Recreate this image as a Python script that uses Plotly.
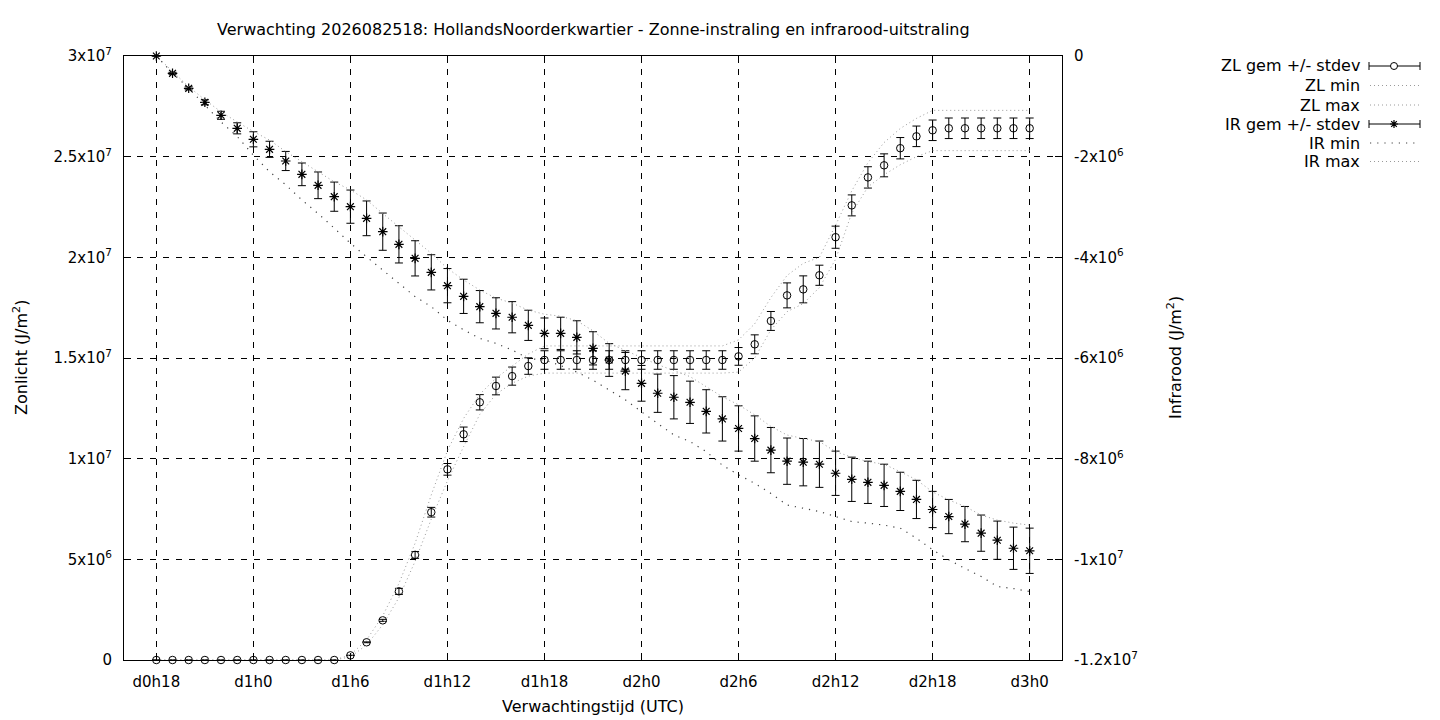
import plotly.graph_objects as go

# forecast hours (d0h18 .. d3h0), hourly
hours = [18, 19, 20, 21, 22, 23, 24, 25, 26, 27, 28, 29, 30, 31, 32, 33, 34, 35, 36,
         37, 38, 39, 40, 41, 42, 43, 44, 45, 46, 47, 48, 49, 50, 51, 52, 53, 54, 55,
         56, 57, 58, 59, 60, 61, 62, 63, 64, 65, 66, 67, 68, 69, 70, 71, 72]

# Zonlicht (J/m2), left axis
zl_mean = [0, 0, 0, 0, 0, 0, 0, 0, 0, 0, 0, 0,
           2.3e5, 8.8e5, 1.97e6, 3.41e6, 5.22e6, 7.34e6, 9.47e6, 1.121e7, 1.28e7,
           1.361e7, 1.41e7, 1.46e7, 1.49e7,
           1.49e7, 1.49e7, 1.49e7, 1.49e7, 1.49e7, 1.49e7, 1.49e7, 1.49e7, 1.49e7,
           1.49e7, 1.49e7,
           1.508e7, 1.568e7, 1.684e7, 1.811e7, 1.841e7, 1.911e7, 2.1e7, 2.258e7,
           2.397e7, 2.457e7, 2.542e7, 2.601e7, 2.631e7,
           2.641e7, 2.641e7, 2.641e7, 2.641e7, 2.641e7, 2.641e7]
zl_std = [0, 0, 0, 0, 0, 0, 0, 0, 0, 0, 0, 0,
          0, 2e4, 5e4, 1.5e5, 1.7e5, 2.4e5, 2.9e5, 3.6e5, 3.8e5,
          4.4e5, 4.5e5, 4.1e5, 4.6e5,
          4.6e5, 4.6e5, 4.6e5, 4.6e5, 4.6e5, 4.6e5, 4.6e5, 4.6e5, 4.6e5,
          4.6e5, 4.6e5,
          4.4e5, 4.7e5, 4.7e5, 6.2e5, 6.7e5, 5.0e5, 5.5e5, 5.2e5,
          5.3e5, 5.7e5, 5.3e5, 5.1e5, 5.1e5,
          5.1e5, 5.1e5, 5.1e5, 5.1e5, 5.1e5, 5.1e5]
zl_min = [0, 0, 0, 0, 0, 0, 0, 0, 0, 0, 0, 0,
          1.5e5, 7.5e5, 1.75e6, 3.1e6, 4.9e6, 7.0e6, 8.9e6, 1.06e7, 1.22e7,
          1.32e7, 1.375e7, 1.41e7, 1.425e7,
          1.425e7, 1.425e7, 1.425e7, 1.425e7, 1.425e7, 1.425e7, 1.425e7, 1.425e7,
          1.425e7, 1.425e7, 1.425e7,
          1.43e7, 1.5e7, 1.64e7, 1.73e7, 1.77e7, 1.85e7, 1.99e7, 2.22e7,
          2.35e7, 2.41e7, 2.46e7, 2.50e7, 2.53e7,
          2.53e7, 2.53e7, 2.53e7, 2.53e7, 2.53e7, 2.53e7]
zl_max = [0, 0, 0, 0, 0, 0, 0, 0, 0, 0, 0, 0,
          2.5e5, 1.0e6, 2.2e6, 3.8e6, 5.8e6, 8.2e6, 1.04e7, 1.2e7, 1.32e7,
          1.40e7, 1.46e7, 1.52e7, 1.56e7,
          1.56e7, 1.56e7, 1.56e7, 1.56e7, 1.56e7, 1.56e7, 1.56e7, 1.56e7, 1.56e7,
          1.56e7, 1.56e7,
          1.59e7, 1.67e7, 1.80e7, 1.91e7, 1.97e7, 2.0e7, 2.16e7, 2.33e7,
          2.47e7, 2.57e7, 2.64e7, 2.69e7, 2.73e7,
          2.73e7, 2.73e7, 2.73e7, 2.73e7, 2.73e7, 2.73e7]

# Infrarood (J/m2), right axis
ir_mean = [0, -3.44e5, -6.42e5, -9.2e5, -1.178e6, -1.437e6, -1.655e6, -1.854e6,
           -2.086e6, -2.351e6, -2.569e6, -2.795e6, -2.993e6, -3.225e6, -3.49e6,
           -3.742e6, -4.02e6, -4.298e6, -4.563e6, -4.775e6, -4.98e6, -5.113e6,
           -5.19e6, -5.351e6, -5.51e6, -5.51e6, -5.59e6, -5.808e6, -6.04e6,
           -6.26e6, -6.503e6, -6.70e6, -6.78e6, -6.88e6, -7.06e6, -7.21e6,
           -7.40e6, -7.60e6, -7.83e6, -8.05e6, -8.07e6, -8.11e6, -8.29e6,
           -8.41e6, -8.47e6, -8.53e6, -8.65e6, -8.81e6, -9.01e6, -9.15e6,
           -9.30e6, -9.48e6, -9.62e6, -9.78e6, -9.83e6]
ir_std = [0, 2e4, 3e4, 5e4, 8e4, 1.1e5, 1.5e5, 1.6e5, 1.9e5, 2.25e5, 2.65e5, 2.9e5,
          3.3e5, 3.45e5, 3.7e5, 3.7e5, 3.5e5, 3.5e5, 3.4e5, 3.4e5, 3.2e5, 3.1e5,
          3.1e5, 3.0e5, 3.05e5, 3.2e5, 3.3e5, 3.3e5, 3.25e5, 3.7e5, 3.55e5, 3.8e5,
          4.3e5, 4.2e5, 4.3e5, 4.4e5, 4.5e5, 4.5e5, 4.5e5, 4.6e5, 4.7e5, 4.6e5,
          4.4e5, 4.4e5, 4.2e5, 4.2e5, 3.8e5, 3.8e5, 3.6e5, 3.4e5, 3.5e5, 3.6e5,
          3.8e5, 4.2e5, 4.5e5]
ir_min = [0, -3.4e5, -6.4e5, -9.7e5, -1.31e6, -1.60e6, -1.97e6, -2.30e6, -2.56e6,
          -2.86e6, -3.13e6, -3.42e6, -3.72e6, -3.99e6, -4.25e6, -4.52e6, -4.78e6,
          -4.98e6, -5.25e6, -5.44e6, -5.61e6, -5.71e6, -5.84e6, -6.01e6, -6.04e6,
          -6.15e6, -6.28e6, -6.44e6, -6.64e6, -6.83e6, -7.07e6, -7.30e6, -7.53e6,
          -7.66e6, -7.86e6, -8.13e6, -8.32e6, -8.49e6, -8.69e6, -8.92e6, -8.99e6,
          -9.05e6, -9.15e6, -9.25e6, -9.28e6, -9.32e6, -9.38e6, -9.58e6, -9.81e6,
          -1.001e7, -1.018e7, -1.034e7, -1.054e7, -1.058e7, -1.064e7]
ir_max = [0, -3.1e5, -6.1e5, -8.7e5, -1.11e6, -1.31e6, -1.50e6, -1.67e6, -1.90e6,
          -2.10e6, -2.30e6, -2.50e6, -2.66e6, -2.86e6, -3.13e6, -3.39e6, -3.66e6,
          -3.92e6, -4.22e6, -4.45e6, -4.65e6, -4.81e6, -4.91e6, -5.05e6, -5.13e6,
          -5.17e6, -5.26e6, -5.46e6, -5.71e6, -5.85e6, -6.0e6, -6.13e6, -6.25e6,
          -6.37e6, -6.57e6, -6.77e6, -6.93e6, -7.13e6, -7.36e6, -7.53e6, -7.60e6,
          -7.66e6, -7.86e6, -7.97e6, -8.06e6, -8.11e6, -8.26e6, -8.42e6, -8.66e6,
          -8.82e6, -8.95e6, -9.12e6, -9.22e6, -9.28e6, -9.32e6]

x_ticks = [18, 24, 30, 36, 42, 48, 54, 60, 66, 72]
x_labels = ["d0h18", "d1h0", "d1h6", "d1h12", "d1h18", "d2h0", "d2h6", "d2h12",
            "d2h18", "d3h0"]
y1_ticks = [0, 5e6, 1e7, 1.5e7, 2e7, 2.5e7, 3e7]
y1_labels = ["0", "5x10<sup>6</sup>", "1x10<sup>7</sup>", "1.5x10<sup>7</sup>",
             "2x10<sup>7</sup>", "2.5x10<sup>7</sup>", "3x10<sup>7</sup>"]
y2_ticks = [-1.2e7, -1e7, -8e6, -6e6, -4e6, -2e6, 0]
y2_labels = ["-1.2x10<sup>7</sup>", "-1x10<sup>7</sup>", "-8x10<sup>6</sup>",
             "-6x10<sup>6</sup>", "-4x10<sup>6</sup>", "-2x10<sup>6</sup>", "0"]

FONT = "DejaVu Sans"
FINE = "#9a9a9a"
SPARSE = "#404040"

fig = go.Figure()

fig.add_trace(go.Scatter(
    x=hours, y=zl_mean, mode="markers", name="ZL gem +/- stdev",
    marker=dict(symbol="circle-open", size=7.5, color="black", line=dict(width=1)),
    error_y=dict(type="data", array=zl_std, color="black", thickness=1, width=4),
    cliponaxis=False))
fig.add_trace(go.Scatter(
    x=hours, y=zl_min, mode="lines", name="ZL min",
    line=dict(color=FINE, width=1, dash="1px,3px")))
fig.add_trace(go.Scatter(
    x=hours, y=zl_max, mode="lines", name="ZL max",
    line=dict(color=FINE, width=1, dash="1px,3px")))
fig.add_trace(go.Scatter(
    x=hours, y=ir_mean, mode="markers", name="IR gem +/- stdev", yaxis="y2",
    marker=dict(symbol="asterisk-open", size=8, color="black", line=dict(width=1.2)),
    error_y=dict(type="data", array=ir_std, color="black", thickness=1, width=4),
    cliponaxis=False))
fig.add_trace(go.Scatter(
    x=hours, y=ir_min, mode="lines", name="IR min", yaxis="y2",
    line=dict(color=SPARSE, width=1.2, dash="1.2px,6px")))
fig.add_trace(go.Scatter(
    x=hours, y=ir_max, mode="lines", name="IR max", yaxis="y2",
    line=dict(color=FINE, width=1, dash="1px,3px")))

# the page body adds an 8px margin, so the figure sits at (8, 8) on screen
OFF = 8
FIG_W, FIG_H = 1440 - OFF, 720 - OFF
# plot area in screen pixels
L, T, W, H = 124, 56, 938, 604


def px(x):
    return (x - L) / W


def py(y):
    return (T + H - y) / H


# gnuplot-style key: text right-aligned, sample on the right
key_names = ["ZL gem +/- stdev", "ZL min", "ZL max", "IR gem +/- stdev",
             "IR min", "IR max"]
key_y = [66, 85.5, 105, 124, 143, 161.5]
annotations = []
shapes = []
for name, ky in zip(key_names, key_y):
    annotations.append(dict(x=px(1362), y=py(ky), xref="paper", yref="paper",
                            text=name, showarrow=False, xanchor="right",
                            yanchor="middle", font=dict(size=16)))
for i in (0, 3):
    ky = key_y[i]
    shapes.append(dict(type="line", xref="paper", yref="paper", x0=px(1369),
                       x1=px(1420), y0=py(ky), y1=py(ky),
                       line=dict(color="black", width=1)))
    for cx in (1369, 1420):
        shapes.append(dict(type="line", xref="paper", yref="paper", x0=px(cx),
                           x1=px(cx), y0=py(ky - 4), y1=py(ky + 4),
                           line=dict(color="black", width=1)))
shapes.append(dict(type="circle", xref="paper", yref="paper", x0=px(1390.5),
                   x1=px(1397.5), y0=py(key_y[0] + 3.5), y1=py(key_y[0] - 3.5),
                   fillcolor="white", line=dict(color="black", width=1)))
sy = key_y[3]
star = (f"M{px(1394)},{py(sy - 4)} L{px(1394)},{py(sy + 4)} "
        f"M{px(1390)},{py(sy)} L{px(1398)},{py(sy)} "
        f"M{px(1391.2)},{py(sy - 2.8)} L{px(1396.8)},{py(sy + 2.8)} "
        f"M{px(1391.2)},{py(sy + 2.8)} L{px(1396.8)},{py(sy - 2.8)}")
shapes.append(dict(type="path", xref="paper", yref="paper", path=star,
                   line=dict(color="black", width=1.2)))
for i, col, dash, wd in ((1, FINE, "1px,3px", 1), (2, FINE, "1px,3px", 1),
                         (4, SPARSE, "1.2px,6px", 1.2), (5, FINE, "1px,3px", 1)):
    shapes.append(dict(type="line", xref="paper", yref="paper", x0=px(1370),
                       x1=px(1420), y0=py(key_y[i]), y1=py(key_y[i]),
                       line=dict(color=col, width=wd, dash=dash)))

# title and axis titles
annotations += [
    dict(x=0.5, y=1, xref="paper", yref="paper", yshift=27, showarrow=False,
         text="Verwachting 2026082518: HollandsNoorderkwartier - Zonne-instraling "
              "en infrarood-uitstraling",
         xanchor="center", yanchor="middle", font=dict(size=16)),
    dict(x=0.5, y=0, xref="paper", yref="paper", yshift=-46, showarrow=False,
         text="Verwachtingstijd (UTC)", xanchor="center", yanchor="middle",
         font=dict(size=16)),
    dict(x=0, y=0.5, xref="paper", yref="paper", xshift=-104, showarrow=False,
         text="Zonlicht (J/m<sup>2</sup>)", textangle=-90, xanchor="center",
         yanchor="middle", font=dict(size=16)),
    dict(x=1, y=0.5, xref="paper", yref="paper", xshift=112, showarrow=False,
         text="Infrarood (J/m<sup>2</sup>)", textangle=-90, xanchor="center",
         yanchor="middle", font=dict(size=16)),
]

grid = dict(showgrid=True, gridcolor="black", gridwidth=1, griddash="6px,7px")

fig.update_layout(
    width=FIG_W, height=FIG_H,
    margin=dict(l=L - OFF, r=FIG_W - (L - OFF) - W, t=T - OFF,
                b=FIG_H - (T - OFF) - H),
    paper_bgcolor="white", plot_bgcolor="white",
    font=dict(family=FONT, size=15, color="black"),
    showlegend=False,
    annotations=annotations,
    shapes=shapes,
    xaxis=dict(range=[16, 74], tickvals=x_ticks, ticktext=x_labels,
               showline=True, linecolor="black", linewidth=1, mirror="ticks",
               ticks="inside", ticklen=7, tickcolor="black",
               ticklabelstandoff=8, zeroline=False, **grid),
    yaxis=dict(range=[0, 3e7], tickvals=y1_ticks, ticktext=y1_labels,
               showline=True, linecolor="black", linewidth=1,
               ticks="inside", ticklen=7, tickcolor="black",
               ticklabelstandoff=8, zeroline=False, **grid),
    yaxis2=dict(range=[-1.2e7, 0], tickvals=y2_ticks, ticktext=y2_labels,
                overlaying="y", side="right", showgrid=False,
                showline=True, linecolor="black", linewidth=1,
                ticks="inside", ticklen=7, tickcolor="black",
                ticklabelstandoff=8, zeroline=False),
)

fig.write_html("out.html")
